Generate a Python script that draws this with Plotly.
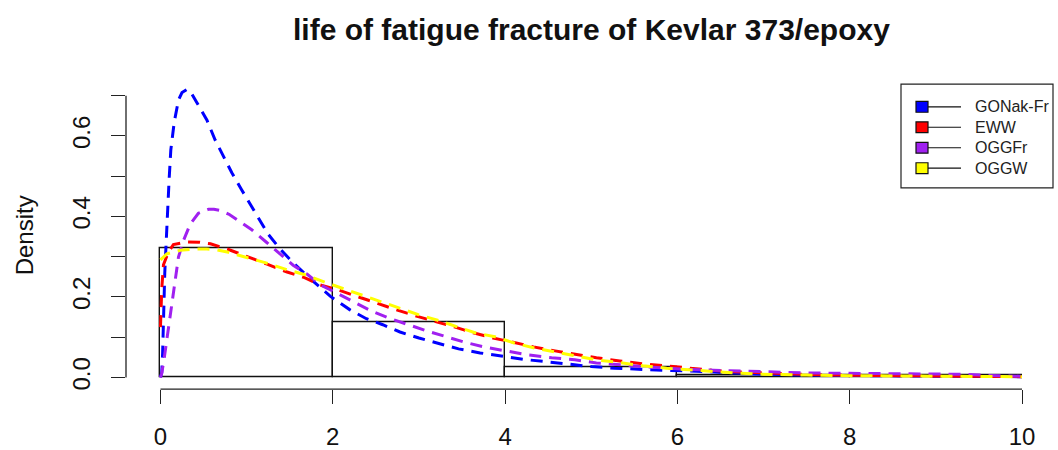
import plotly.graph_objects as go

# Histogram of fatigue-fracture lives (density scale), bins of width 2
bin_edges = [0, 2, 4, 6, 8, 10]
bin_density = [0.3224, 0.1382, 0.0263, 0.0066, 0.0066]

# Fitted density curves
gonak_x = [0, 0.015, 0.025, 0.03, 0.04, 0.05, 0.065, 0.08, 0.1, 0.12, 0.16, 0.21, 0.25,
           0.31, 0.36, 0.42, 0.54, 0.635, 0.73, 0.83, 0.94, 1.04, 1.25, 1.39, 1.54,
           1.74, 1.97, 2.2, 2.39, 2.58, 2.78, 3.0, 3.23, 3.46, 3.71, 3.94, 4.21, 4.48,
           4.73, 5.0, 5.27, 5.55, 5.82, 6.11, 6.5, 7.0, 7.5, 8.0, 9.0, 10.0]
gonak_y = [0, 0.012, 0.06, 0.12, 0.19, 0.26, 0.33, 0.41, 0.49, 0.565, 0.635, 0.69, 0.708,
           0.716, 0.706, 0.684, 0.639, 0.59, 0.549, 0.508, 0.467, 0.43, 0.356, 0.319, 0.285,
           0.245, 0.202, 0.168, 0.146, 0.131, 0.113, 0.098, 0.085, 0.071, 0.061, 0.053, 0.045, 0.039,
           0.033, 0.027, 0.023, 0.020, 0.018, 0.0165, 0.012, 0.008, 0.006, 0.0045, 0.003, 0.002]

eww_x = [0, 0.005, 0.015, 0.035, 0.09, 0.15, 0.3, 0.45, 0.58, 0.79, 1.0, 1.23, 1.47, 1.66,
         1.85, 2.07, 2.3, 2.52, 2.74, 2.96, 3.18, 3.42, 3.63, 3.86, 4.08, 4.33, 4.58, 4.81,
         5.06, 5.33, 5.59, 5.86, 6.13, 6.4, 6.67, 6.94, 7.21, 7.5, 8.0, 8.5, 9.0, 9.5, 10.0]
eww_y = [0.125, 0.16, 0.22, 0.28, 0.311, 0.33, 0.337, 0.336, 0.332, 0.318, 0.30, 0.282, 0.262, 0.249,
         0.23, 0.217, 0.2, 0.183, 0.168, 0.153, 0.14, 0.125, 0.111, 0.098, 0.088, 0.076, 0.066, 0.057,
         0.049, 0.041, 0.034, 0.029, 0.023, 0.018, 0.014, 0.0115, 0.009, 0.0074, 0.0055, 0.0042, 0.0032,
         0.0025, 0.002]

oggfr_x = [0, 0.015, 0.045, 0.065, 0.08, 0.095, 0.12, 0.15, 0.171, 0.209, 0.267, 0.345, 0.44,
           0.56, 0.62, 0.69, 0.8, 0.92, 1.06, 1.23, 1.39, 1.54, 1.7, 1.85, 2.05, 2.28, 2.45,
           2.67, 2.88, 3.1, 3.32, 3.54, 3.77, 4.04, 4.27, 4.54, 4.81, 5.06, 5.33, 5.6, 5.87,
           6.11, 6.42, 6.69, 6.96, 7.23, 7.54, 7.8, 8.1, 8.4, 8.7, 9.0, 9.36, 9.6, 10.0]
oggfr_y = [0, 0.01, 0.05, 0.08, 0.115, 0.13, 0.175, 0.21, 0.242, 0.299, 0.34, 0.381, 0.408,
           0.418, 0.418, 0.415, 0.405, 0.387, 0.367, 0.336, 0.307, 0.279, 0.257, 0.231, 0.209, 0.184, 0.165,
           0.146, 0.13, 0.115, 0.101, 0.087, 0.075, 0.065, 0.056, 0.049, 0.044, 0.036, 0.031, 0.027, 0.023,
           0.02, 0.018, 0.016, 0.014, 0.012, 0.011, 0.0105, 0.010, 0.009, 0.0088, 0.0083, 0.0078, 0.005, 0.003]

oggw_x = [0, 0.074, 0.229, 0.383, 0.538, 0.654, 0.789, 1.0, 1.234, 1.466, 1.698, 1.93, 2.123,
          2.336, 2.568, 2.78, 2.993, 3.206, 3.438, 3.651, 3.883, 4.115, 4.347, 4.598, 4.83,
          5.08, 5.33, 5.6, 5.875, 6.125, 6.397, 6.667, 6.937, 7.23, 7.5, 8.0, 8.5, 9.0, 9.5, 10.0]
oggw_y = [0.292, 0.307, 0.316, 0.319, 0.319, 0.317, 0.311, 0.299, 0.284, 0.268, 0.254, 0.235, 0.221,
          0.205, 0.188, 0.172, 0.156, 0.143, 0.127, 0.111, 0.101, 0.085, 0.073, 0.063, 0.053,
          0.043, 0.037, 0.029, 0.023, 0.019, 0.014, 0.011, 0.0083, 0.0066, 0.0059, 0.0045, 0.0035,
          0.0028, 0.0022, 0.0018]

series_names = ["GONak-Fr", "EWW", "OGGFr", "OGGW"]
series_colors = ["#0000FF", "#FF0000", "#A020F0", "#FFFF00"]

title_text = "life of fatigue fracture of Kevlar 373/epoxy"
y_title = "Density"
x_ticks = [0, 2, 4, 6, 8, 10]
y_ticks = [0.0, 0.2, 0.4, 0.6]
y_minor_ticks = [0.1, 0.3, 0.5, 0.7]

W, H = 1058, 450
FONT = "Liberation Sans, Arial, Helvetica, sans-serif"


def px(x):
    return x / W


def py(y):
    return 1 - y / H


fig = go.Figure()

# histogram bars (outline only)
centers = [(a + b) / 2 for a, b in zip(bin_edges[:-1], bin_edges[1:])]
widths = [b - a for a, b in zip(bin_edges[:-1], bin_edges[1:])]
fig.add_trace(go.Bar(
    x=centers, y=bin_density, width=widths,
    marker=dict(color="rgba(0,0,0,0)", line=dict(color="#111111", width=1.4)),
    showlegend=False, hoverinfo="skip",
))

curves = [(gonak_x, gonak_y), (eww_x, eww_y), (oggfr_x, oggfr_y), (oggw_x, oggw_y)]
for (cx, cy), name, col in zip(curves, series_names, series_colors):
    fig.add_trace(go.Scatter(
        x=cx, y=cy, mode="lines", name=name,
        line=dict(color=col, width=3, dash="12px,8px"),
        showlegend=False,
    ))

# plot region in pixels
left, right, top, bottom = 126, 1056.5, 75, 393.5
axis_color = "#222222"

fig.update_layout(
    width=W, height=H,
    margin=dict(l=0, r=0, t=0, b=0),
    paper_bgcolor="white", plot_bgcolor="white",
    font=dict(family=FONT, color="#111111"),
    showlegend=False,
    bargap=0,
    xaxis=dict(
        domain=[px(left), px(right)], range=[-0.4, 10.4],
        showgrid=False, zeroline=False, showline=False,
        tickmode="array", tickvals=x_ticks, ticktext=[str(v) for v in x_ticks],
        ticks="outside", ticklen=14, tickwidth=1.3, tickcolor=axis_color,
        tickfont=dict(size=24, family=FONT, color="#111111"),
        ticklabelstandoff=12,
    ),
    yaxis=dict(
        domain=[py(bottom), py(top)], range=[-0.029, 0.7536],
        showgrid=False, zeroline=False, showline=False,
        tickmode="array", tickvals=y_ticks + y_minor_ticks,
        ticktext=[f"{v:.1f}" for v in y_ticks] + [""] * len(y_minor_ticks),
        ticks="outside", ticklen=14, tickwidth=1.3, tickcolor=axis_color,
        tickangle=-90,
        tickfont=dict(size=24, family=FONT, color="#111111"),
        ticklabelstandoff=11,
    ),
)

shapes = [
    # x axis line spanning the tick range
    dict(type="line", xref="x", yref="paper", x0=x_ticks[0], x1=x_ticks[-1],
         y0=py(bottom), y1=py(bottom), line=dict(color=axis_color, width=1.3)),
    # y axis line spanning the tick range
    dict(type="line", xref="paper", yref="y", x0=px(left), x1=px(left),
         y0=0, y1=0.7, line=dict(color=axis_color, width=1.3)),
    # legend frame
    dict(type="rect", xref="paper", yref="paper", x0=px(901), x1=px(1053),
         y0=py(190), y1=py(85), line=dict(color="#222222", width=1.2),
         fillcolor="white", layer="above"),
]

annotations = [
    dict(text=f"<b>{title_text}</b>", xref="paper", yref="paper", x=px(591), y=py(30),
         xanchor="center", yanchor="middle", showarrow=False,
         font=dict(size=30, family=FONT, color="#111111")),
    dict(text=y_title, xref="paper", yref="paper", x=px(24), y=py(238),
         xanchor="center", yanchor="middle", textangle=-90, showarrow=False,
         font=dict(size=24, family=FONT, color="#111111")),
]

# legend entries: black line with a filled square marker
row0, row_step = 108, 20.7
for i, (name, col) in enumerate(zip(series_names, series_colors)):
    yc = row0 + i * row_step
    shapes.append(dict(type="line", xref="paper", yref="paper", x0=px(922), x1=px(961),
                       y0=py(yc), y1=py(yc), line=dict(color="#111111", width=1.2),
                       layer="above"))
    shapes.append(dict(type="rect", xref="paper", yref="paper", x0=px(916), x1=px(928),
                       y0=py(yc + 5.5), y1=py(yc - 5.5),
                       line=dict(color="#111111", width=1.2), fillcolor=col, layer="above"))
    annotations.append(dict(text=name, xref="paper", yref="paper", x=px(973), y=py(yc),
                            xanchor="left", yanchor="middle", showarrow=False,
                            font=dict(size=16, family=FONT, color="#222222")))

fig.update_layout(shapes=shapes, annotations=annotations)

fig.write_html("out.html")
